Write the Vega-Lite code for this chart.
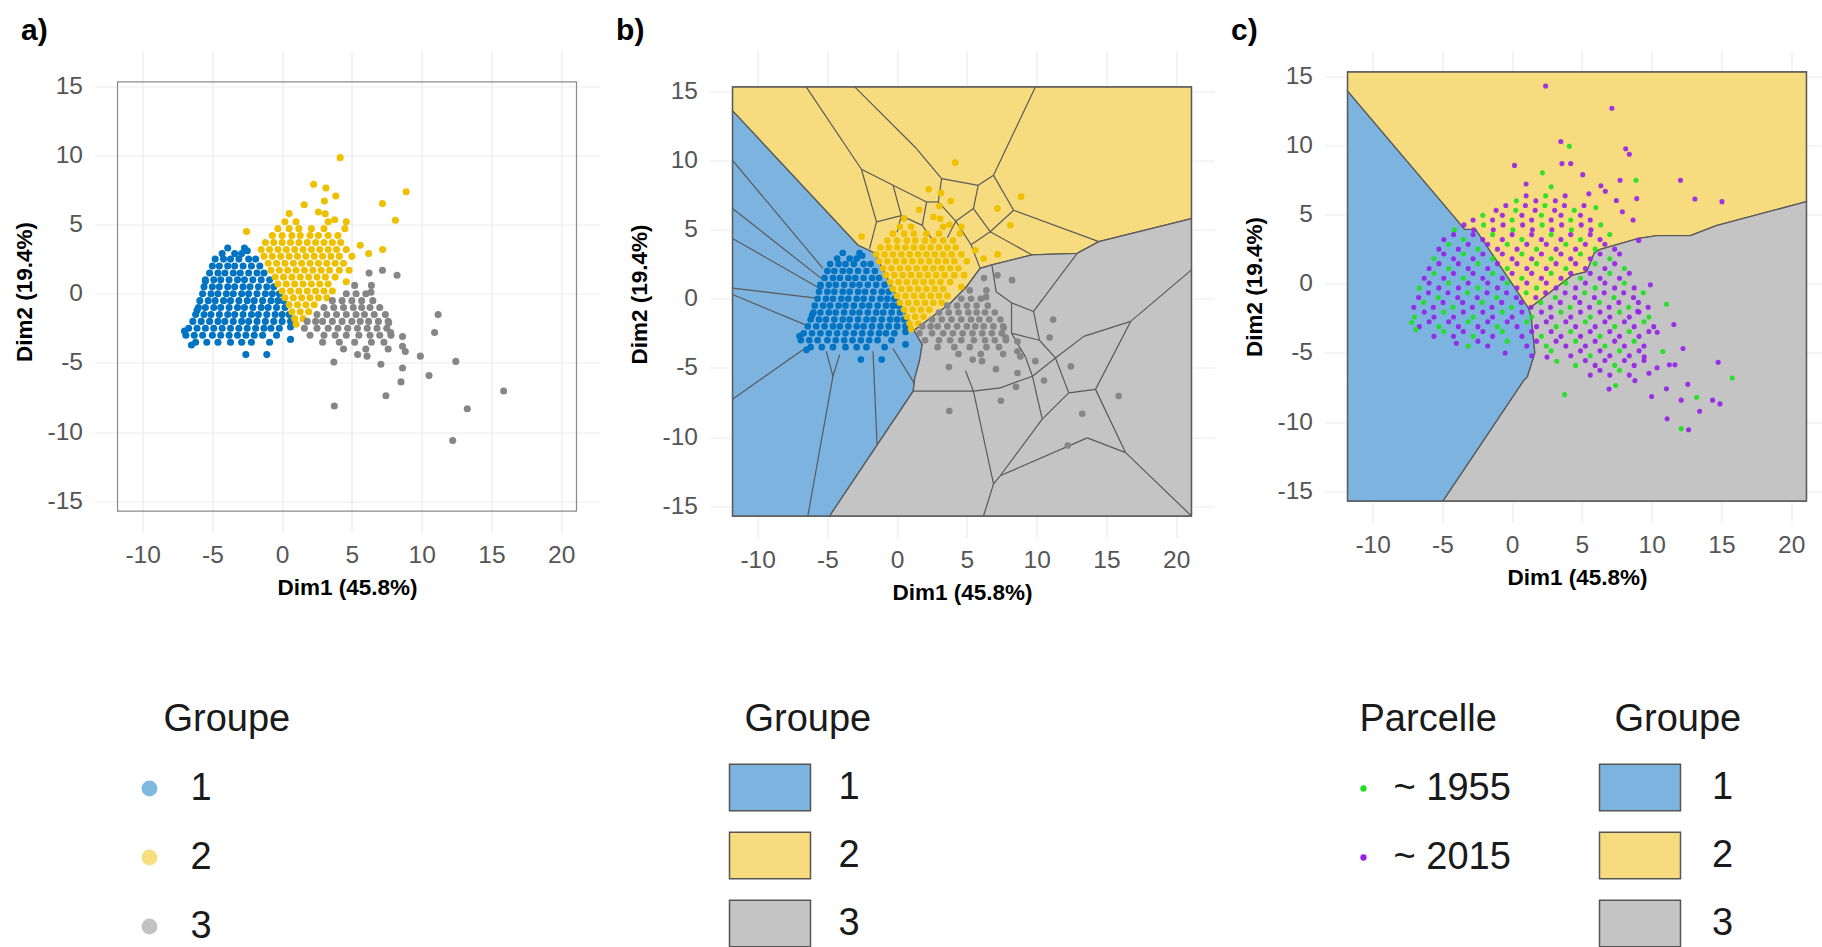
{
"$schema":"https://vega.github.io/schema/vega-lite/v6.json",
"background":"white",
"padding":{"left":12.5,"top":15.5,"right":0,"bottom":0},
"config":{
 "view":{"stroke":null},
 "font":"Liberation Sans",
 "axis":{"grid":true,"gridColor":"#ebebeb","gridWidth":1.2,"domain":false,"ticks":false,"labelFont":"Liberation Sans","labelFontSize":24.5,"labelColor":"#555555","titleFont":"Liberation Sans","titleFontSize":22.5,"titleFontWeight":"bold","titleColor":"#000000"},
 "legend":{"titleFont":"Liberation Sans","labelFont":"Liberation Sans","titleFontSize":38,"labelFontSize":38,"titleFontWeight":"normal","titleColor":"#1a1a1a","labelColor":"#1a1a1a","padding":0,"rowPadding":31,"titlePadding":31},
 "title":{"font":"Liberation Sans","fontSize":30,"fontWeight":"bold","anchor":"start","frame":"bounds","color":"#000000"}
},
"datasets":{
"frame":[{"x":-11.8,"x2":21.1,"y":-15.7,"y2":15.3}],
"pts":[
{"x":-3.9,"y":3.3,"g":1},{"x":-2.7,"y":3.3,"g":1},{"x":-2.5,"y":3.1,"g":1},
{"x":-4.3,"y":2.9,"g":1},{"x":-3.4,"y":2.9,"g":1},{"x":-2.9,"y":2.9,"g":1},
{"x":-4.8,"y":2.5,"g":1},{"x":-4.2,"y":2.5,"g":1},{"x":-3.7,"y":2.5,"g":1},{"x":-3.1,"y":2.5,"g":1},{"x":-2.4,"y":2.5,"g":1},{"x":-1.9,"y":2.5,"g":1},
{"x":-5.0,"y":2.0,"g":1},{"x":-4.5,"y":2.0,"g":1},{"x":-3.9,"y":2.0,"g":1},{"x":-3.4,"y":2.0,"g":1},{"x":-2.8,"y":2.0,"g":1},{"x":-2.2,"y":2.0,"g":1},{"x":-1.6,"y":2.0,"g":1},
{"x":-5.2,"y":1.5,"g":1},{"x":-4.6,"y":1.5,"g":1},{"x":-4.1,"y":1.5,"g":1},{"x":-3.5,"y":1.5,"g":1},{"x":-3.0,"y":1.5,"g":1},{"x":-2.4,"y":1.5,"g":1},{"x":-1.8,"y":1.5,"g":1},{"x":-1.3,"y":1.5,"g":1},
{"x":-5.5,"y":1.0,"g":1},{"x":-4.9,"y":1.0,"g":1},{"x":-4.4,"y":1.0,"g":1},{"x":-3.8,"y":1.0,"g":1},{"x":-3.2,"y":1.0,"g":1},{"x":-2.7,"y":1.0,"g":1},{"x":-2.1,"y":1.0,"g":1},{"x":-1.5,"y":1.0,"g":1},{"x":-0.9,"y":1.0,"g":1},
{"x":-5.6,"y":0.5,"g":1},{"x":-5.0,"y":0.5,"g":1},{"x":-4.5,"y":0.5,"g":1},{"x":-3.9,"y":0.5,"g":1},{"x":-3.4,"y":0.5,"g":1},{"x":-2.8,"y":0.5,"g":1},{"x":-2.3,"y":0.5,"g":1},{"x":-1.7,"y":0.5,"g":1},{"x":-1.1,"y":0.5,"g":1},{"x":-0.6,"y":0.5,"g":1},
{"x":-5.7,"y":0,"g":1},{"x":-5.1,"y":0,"g":1},{"x":-4.6,"y":0,"g":1},{"x":-4.0,"y":0,"g":1},{"x":-3.5,"y":0,"g":1},{"x":-2.9,"y":0,"g":1},{"x":-2.4,"y":0,"g":1},{"x":-1.8,"y":0,"g":1},{"x":-1.2,"y":0,"g":1},{"x":-0.7,"y":0,"g":1},{"x":-0.2,"y":0,"g":1},
{"x":-5.9,"y":-0.5,"g":1},{"x":-5.3,"y":-0.5,"g":1},{"x":-4.8,"y":-0.5,"g":1},{"x":-4.2,"y":-0.5,"g":1},{"x":-3.7,"y":-0.5,"g":1},{"x":-3.1,"y":-0.5,"g":1},{"x":-2.5,"y":-0.5,"g":1},{"x":-2.0,"y":-0.5,"g":1},{"x":-1.4,"y":-0.5,"g":1},{"x":-0.8,"y":-0.5,"g":1},{"x":-0.3,"y":-0.5,"g":1},{"x":0.1,"y":-0.5,"g":1},
{"x":-6.0,"y":-1,"g":1},{"x":-5.5,"y":-1,"g":1},{"x":-4.9,"y":-1,"g":1},{"x":-4.4,"y":-1,"g":1},{"x":-3.8,"y":-1,"g":1},{"x":-3.2,"y":-1,"g":1},{"x":-2.7,"y":-1,"g":1},{"x":-2.1,"y":-1,"g":1},{"x":-1.5,"y":-1,"g":1},{"x":-1.0,"y":-1,"g":1},{"x":-0.4,"y":-1,"g":1},{"x":0.2,"y":-1,"g":1},
{"x":-6.2,"y":-1.5,"g":1},{"x":-5.6,"y":-1.5,"g":1},{"x":-5.1,"y":-1.5,"g":1},{"x":-4.5,"y":-1.5,"g":1},{"x":-3.9,"y":-1.5,"g":1},{"x":-3.4,"y":-1.5,"g":1},{"x":-2.8,"y":-1.5,"g":1},{"x":-2.2,"y":-1.5,"g":1},{"x":-1.7,"y":-1.5,"g":1},{"x":-1.1,"y":-1.5,"g":1},{"x":-0.5,"y":-1.5,"g":1},{"x":0.0,"y":-1.5,"g":1},{"x":0.5,"y":-1.5,"g":1},
{"x":-6.4,"y":-2,"g":1},{"x":-5.8,"y":-2,"g":1},{"x":-5.2,"y":-2,"g":1},{"x":-4.6,"y":-2,"g":1},{"x":-4.1,"y":-2,"g":1},{"x":-3.5,"y":-2,"g":1},{"x":-2.9,"y":-2,"g":1},{"x":-2.4,"y":-2,"g":1},{"x":-1.8,"y":-2,"g":1},{"x":-1.2,"y":-2,"g":1},{"x":-0.6,"y":-2,"g":1},{"x":0.0,"y":-2,"g":1},{"x":0.6,"y":-2,"g":1},
{"x":-6.7,"y":-2.5,"g":1},{"x":-6.1,"y":-2.5,"g":1},{"x":-5.5,"y":-2.5,"g":1},{"x":-4.9,"y":-2.5,"g":1},{"x":-4.3,"y":-2.5,"g":1},{"x":-3.7,"y":-2.5,"g":1},{"x":-3.1,"y":-2.5,"g":1},{"x":-2.5,"y":-2.5,"g":1},{"x":-1.9,"y":-2.5,"g":1},{"x":-1.3,"y":-2.5,"g":1},{"x":-0.8,"y":-2.5,"g":1},{"x":-0.2,"y":-2.5,"g":1},{"x":0.6,"y":-2.4,"g":1},
{"x":-6.9,"y":-3,"g":1},{"x":-6.3,"y":-3,"g":1},{"x":-5.7,"y":-3,"g":1},{"x":-5.0,"y":-3,"g":1},{"x":-4.4,"y":-3,"g":1},{"x":-3.8,"y":-3,"g":1},{"x":-3.2,"y":-3,"g":1},{"x":-2.6,"y":-3,"g":1},{"x":-2.0,"y":-3,"g":1},{"x":-1.4,"y":-3,"g":1},{"x":-0.4,"y":-3,"g":1},
{"x":-6.2,"y":-3.5,"g":1},{"x":-5.4,"y":-3.5,"g":1},{"x":-4.6,"y":-3.5,"g":1},{"x":-3.7,"y":-3.5,"g":1},{"x":-2.9,"y":-3.5,"g":1},{"x":-2.2,"y":-3.5,"g":1},{"x":-0.9,"y":-3.5,"g":1},{"x":0.6,"y":-3.3,"g":1},
{"x":-2.6,"y":-4.4,"g":1},{"x":-1.1,"y":-4.4,"g":1},{"x":-7.0,"y":-2.7,"g":1},{"x":-6.5,"y":-3.7,"g":1},{"x":-5.5,"y":0.9,"g":1},{"x":-6.1,"y":-1.2,"g":1},
{"x":1.0,"y":-2.2,"g":2},
{"x":0.9,"y":-1.8,"g":2},{"x":1.5,"y":-1.8,"g":2},
{"x":0.7,"y":-1.3,"g":2},{"x":1.3,"y":-1.3,"g":2},{"x":1.9,"y":-1.3,"g":2},
{"x":0.5,"y":-0.8,"g":2},{"x":1.1,"y":-0.8,"g":2},{"x":1.7,"y":-0.8,"g":2},{"x":2.3,"y":-0.8,"g":2},
{"x":0.2,"y":-0.3,"g":2},{"x":0.8,"y":-0.3,"g":2},{"x":1.4,"y":-0.3,"g":2},{"x":2.0,"y":-0.3,"g":2},{"x":2.6,"y":-0.3,"g":2},{"x":3.2,"y":-0.3,"g":2},
{"x":0.0,"y":0.2,"g":2},{"x":0.6,"y":0.2,"g":2},{"x":1.2,"y":0.2,"g":2},{"x":1.8,"y":0.2,"g":2},{"x":2.4,"y":0.2,"g":2},{"x":3.0,"y":0.2,"g":2},{"x":3.6,"y":0.2,"g":2},
{"x":-0.3,"y":0.7,"g":2},{"x":0.3,"y":0.7,"g":2},{"x":0.9,"y":0.7,"g":2},{"x":1.5,"y":0.7,"g":2},{"x":2.1,"y":0.7,"g":2},{"x":2.7,"y":0.7,"g":2},{"x":3.3,"y":0.7,"g":2},{"x":4.6,"y":0.86,"g":2},
{"x":-0.5,"y":1.2,"g":2},{"x":0.1,"y":1.2,"g":2},{"x":0.7,"y":1.2,"g":2},{"x":1.3,"y":1.2,"g":2},{"x":1.9,"y":1.2,"g":2},{"x":2.5,"y":1.2,"g":2},{"x":3.1,"y":1.2,"g":2},{"x":3.8,"y":1.2,"g":2},
{"x":-0.8,"y":1.7,"g":2},{"x":-0.2,"y":1.7,"g":2},{"x":0.4,"y":1.7,"g":2},{"x":1.0,"y":1.7,"g":2},{"x":1.6,"y":1.7,"g":2},{"x":2.2,"y":1.7,"g":2},{"x":2.8,"y":1.7,"g":2},{"x":3.4,"y":1.7,"g":2},{"x":4.1,"y":1.7,"g":2},{"x":4.8,"y":1.7,"g":2},
{"x":-1.0,"y":2.2,"g":2},{"x":-0.4,"y":2.2,"g":2},{"x":0.2,"y":2.2,"g":2},{"x":0.8,"y":2.2,"g":2},{"x":1.4,"y":2.2,"g":2},{"x":2.0,"y":2.2,"g":2},{"x":2.6,"y":2.2,"g":2},{"x":3.2,"y":2.2,"g":2},{"x":3.8,"y":2.2,"g":2},{"x":4.4,"y":2.2,"g":2},
{"x":-1.3,"y":2.7,"g":2},{"x":-0.7,"y":2.7,"g":2},{"x":-0.1,"y":2.7,"g":2},{"x":0.5,"y":2.7,"g":2},{"x":1.1,"y":2.7,"g":2},{"x":1.7,"y":2.7,"g":2},{"x":2.3,"y":2.7,"g":2},{"x":2.9,"y":2.7,"g":2},{"x":3.5,"y":2.7,"g":2},{"x":4.1,"y":2.7,"g":2},{"x":5.0,"y":2.7,"g":2},
{"x":-1.5,"y":3.2,"g":2},{"x":-0.9,"y":3.2,"g":2},{"x":-0.3,"y":3.2,"g":2},{"x":0.3,"y":3.2,"g":2},{"x":0.9,"y":3.2,"g":2},{"x":1.5,"y":3.2,"g":2},{"x":2.1,"y":3.2,"g":2},{"x":2.7,"y":3.2,"g":2},{"x":3.3,"y":3.2,"g":2},{"x":3.9,"y":3.2,"g":2},{"x":4.6,"y":3.2,"g":2},{"x":7.2,"y":3.2,"g":2},
{"x":-1.2,"y":3.7,"g":2},{"x":-0.6,"y":3.7,"g":2},{"x":0.0,"y":3.7,"g":2},{"x":0.6,"y":3.7,"g":2},{"x":1.2,"y":3.7,"g":2},{"x":1.8,"y":3.7,"g":2},{"x":2.4,"y":3.7,"g":2},{"x":3.0,"y":3.7,"g":2},{"x":3.6,"y":3.7,"g":2},{"x":4.2,"y":3.7,"g":2},{"x":5.6,"y":3.5,"g":2},
{"x":-0.7,"y":4.2,"g":2},{"x":0.0,"y":4.2,"g":2},{"x":0.7,"y":4.2,"g":2},{"x":1.3,"y":4.2,"g":2},{"x":2.0,"y":4.2,"g":2},{"x":2.6,"y":4.2,"g":2},{"x":3.3,"y":4.2,"g":2},{"x":4.0,"y":4.2,"g":2},
{"x":-0.3,"y":4.7,"g":2},{"x":0.5,"y":4.7,"g":2},{"x":1.2,"y":4.7,"g":2},{"x":2.1,"y":4.7,"g":2},{"x":3.0,"y":4.7,"g":2},{"x":4.5,"y":4.7,"g":2},
{"x":0.2,"y":5.2,"g":2},{"x":1.0,"y":5.2,"g":2},{"x":3.3,"y":5.2,"g":2},{"x":4.6,"y":5.2,"g":2},
{"x":4.16,"y":9.83,"g":2},{"x":2.26,"y":7.9,"g":2},{"x":3.14,"y":7.63,"g":2},{"x":3.85,"y":7.06,"g":2},{"x":1.58,"y":6.43,"g":2},{"x":3.03,"y":6.69,"g":2},{"x":7.19,"y":6.51,"g":2},{"x":8.89,"y":7.37,"g":2},{"x":8.12,"y":5.31,"g":2},{"x":3.76,"y":5.34,"g":2},{"x":3.09,"y":5.77,"g":2},{"x":-2.55,"y":4.49,"g":2},{"x":6.2,"y":2.9,"g":2},{"x":2.6,"y":5.9,"g":2},{"x":0.5,"y":5.8,"g":2},
{"x":5.2,"y":0.6,"g":3},{"x":6.4,"y":0.6,"g":3},
{"x":4.6,"y":0,"g":3},{"x":5.3,"y":0,"g":3},{"x":6.0,"y":0,"g":3},
{"x":3.6,"y":-0.5,"g":3},{"x":4.3,"y":-0.5,"g":3},{"x":5.0,"y":-0.5,"g":3},{"x":5.7,"y":-0.5,"g":3},{"x":6.5,"y":-0.5,"g":3},
{"x":3.0,"y":-1,"g":3},{"x":3.7,"y":-1,"g":3},{"x":4.4,"y":-1,"g":3},{"x":5.1,"y":-1,"g":3},{"x":5.7,"y":-1,"g":3},{"x":6.3,"y":-1,"g":3},{"x":7.0,"y":-1,"g":3},
{"x":2.5,"y":-1.5,"g":3},{"x":3.2,"y":-1.5,"g":3},{"x":3.9,"y":-1.5,"g":3},{"x":4.6,"y":-1.5,"g":3},{"x":5.3,"y":-1.5,"g":3},{"x":5.9,"y":-1.5,"g":3},{"x":6.6,"y":-1.5,"g":3},{"x":7.4,"y":-1.5,"g":3},
{"x":1.8,"y":-2,"g":3},{"x":2.4,"y":-2,"g":3},{"x":2.9,"y":-2,"g":3},{"x":3.6,"y":-2,"g":3},{"x":4.3,"y":-2,"g":3},{"x":5.0,"y":-2,"g":3},{"x":5.6,"y":-2,"g":3},{"x":6.2,"y":-2,"g":3},{"x":6.9,"y":-2,"g":3},{"x":7.6,"y":-2,"g":3},
{"x":1.6,"y":-2.5,"g":3},{"x":2.5,"y":-2.5,"g":3},{"x":3.3,"y":-2.5,"g":3},{"x":4.0,"y":-2.5,"g":3},{"x":4.7,"y":-2.5,"g":3},{"x":5.4,"y":-2.5,"g":3},{"x":6.1,"y":-2.5,"g":3},{"x":6.8,"y":-2.5,"g":3},{"x":7.5,"y":-2.5,"g":3},
{"x":2.0,"y":-3,"g":3},{"x":3.0,"y":-3,"g":3},{"x":3.8,"y":-3,"g":3},{"x":4.6,"y":-3,"g":3},{"x":5.5,"y":-3,"g":3},{"x":6.3,"y":-3,"g":3},{"x":7.0,"y":-3,"g":3},{"x":7.8,"y":-3,"g":3},
{"x":2.9,"y":-3.5,"g":3},{"x":4.1,"y":-3.5,"g":3},{"x":5.2,"y":-3.5,"g":3},{"x":6.4,"y":-3.5,"g":3},{"x":7.3,"y":-3.5,"g":3},
{"x":4.4,"y":-4,"g":3},{"x":6.0,"y":-4,"g":3},{"x":7.6,"y":-4,"g":3},
{"x":11.18,"y":-1.51,"g":3},{"x":10.93,"y":-2.8,"g":3},{"x":12.45,"y":-4.89,"g":3},{"x":15.88,"y":-7.03,"g":3},{"x":13.27,"y":-8.31,"g":3},{"x":12.23,"y":-10.6,"g":3},{"x":10.53,"y":-5.91,"g":3},{"x":9.91,"y":-4.51,"g":3},{"x":8.63,"y":-5.37,"g":3},{"x":8.52,"y":-6.37,"g":3},{"x":7.44,"y":-7.37,"g":3},{"x":3.74,"y":-8.11,"g":3},{"x":3.71,"y":-4.94,"g":3},{"x":7.08,"y":-5.09,"g":3},{"x":5.41,"y":-4.4,"g":3},{"x":6.09,"y":-4.51,"g":3},{"x":8.24,"y":1.34,"g":3},{"x":7.19,"y":1.69,"g":3},{"x":6.23,"y":1.49,"g":3},{"x":6.37,"y":0.11,"g":3},{"x":8.63,"y":-3.09,"g":3},{"x":8.63,"y":-3.8,"g":3},{"x":8.83,"y":-4.17,"g":3},{"x":7.64,"y":-2.09,"g":3},{"x":7.78,"y":-2.8,"g":3}
],
"polyb":[
{"g":1,"o":0,"x":-11.8,"y":13.59},{"g":1,"o":1,"x":-2.81,"y":3.88},{"g":1,"o":2,"x":-1.6,"y":3.3},{"g":1,"o":3,"x":1.2,"y":-2.3},{"g":1,"o":4,"x":1.8,"y":-3.3},{"g":1,"o":5,"x":1.6,"y":-4.5},{"g":1,"o":6,"x":1.27,"y":-5.72},{"g":1,"o":7,"x":1.15,"y":-6.68},{"g":1,"o":8,"x":-4.84,"y":-15.7},{"g":1,"o":9,"x":-11.8,"y":-15.7},
{"g":2,"o":0,"x":-11.8,"y":15.3},{"g":2,"o":1,"x":21.1,"y":15.3},{"g":2,"o":2,"x":21.1,"y":5.79},{"g":2,"o":3,"x":14.46,"y":4.12},{"g":2,"o":4,"x":12.9,"y":3.27},{"g":2,"o":5,"x":9.67,"y":3.16},{"g":2,"o":6,"x":6.79,"y":2.44},{"g":2,"o":7,"x":5.95,"y":2.19},{"g":2,"o":8,"x":5.0,"y":0.9},{"g":2,"o":9,"x":3.8,"y":-0.35},{"g":2,"o":10,"x":1.2,"y":-2.3},{"g":2,"o":11,"x":-1.6,"y":3.3},{"g":2,"o":12,"x":-2.81,"y":3.88},{"g":2,"o":13,"x":-11.8,"y":13.59},
{"g":3,"o":0,"x":1.2,"y":-2.3},{"g":3,"o":1,"x":3.8,"y":-0.35},{"g":3,"o":2,"x":5.0,"y":0.9},{"g":3,"o":3,"x":5.95,"y":2.19},{"g":3,"o":4,"x":6.79,"y":2.44},{"g":3,"o":5,"x":9.67,"y":3.16},{"g":3,"o":6,"x":12.9,"y":3.27},{"g":3,"o":7,"x":14.46,"y":4.12},{"g":3,"o":8,"x":21.1,"y":5.79},{"g":3,"o":9,"x":21.1,"y":-15.7},{"g":3,"o":10,"x":-4.84,"y":-15.7},{"g":3,"o":11,"x":1.15,"y":-6.68},{"g":3,"o":12,"x":1.27,"y":-5.72},{"g":3,"o":13,"x":1.6,"y":-4.5},{"g":3,"o":14,"x":1.8,"y":-3.3}
],
"polyc":[
{"g":1,"o":0,"x":-11.8,"y":13.93},{"g":1,"o":1,"x":-3.95,"y":4.6},{"g":1,"o":2,"x":-3.41,"y":3.93},{"g":1,"o":3,"x":-2.62,"y":3.93},{"g":1,"o":4,"x":-1,"y":1.5},{"g":1,"o":5,"x":1.2,"y":-1.8},{"g":1,"o":6,"x":1.36,"y":-2.33},{"g":1,"o":7,"x":1.63,"y":-5},{"g":1,"o":8,"x":1.09,"y":-6.73},{"g":1,"o":9,"x":0.83,"y":-7},{"g":1,"o":10,"x":-4.96,"y":-15.7},{"g":1,"o":11,"x":-11.8,"y":-15.7},
{"g":2,"o":0,"x":-11.8,"y":15.3},{"g":2,"o":1,"x":21.1,"y":15.3},{"g":2,"o":2,"x":21.1,"y":5.93},{"g":2,"o":3,"x":14.64,"y":4.2},{"g":2,"o":4,"x":12.78,"y":3.48},{"g":2,"o":5,"x":10.39,"y":3.48},{"g":2,"o":6,"x":9.07,"y":3.27},{"g":2,"o":7,"x":6.27,"y":2.47},{"g":2,"o":8,"x":5.88,"y":2.2},{"g":2,"o":9,"x":5.35,"y":0.87},{"g":2,"o":10,"x":4.29,"y":0.6},{"g":2,"o":11,"x":1.2,"y":-1.8},{"g":2,"o":12,"x":-1,"y":1.5},{"g":2,"o":13,"x":-2.62,"y":3.93},{"g":2,"o":14,"x":-3.41,"y":3.93},{"g":2,"o":15,"x":-3.95,"y":4.6},{"g":2,"o":16,"x":-11.8,"y":13.93},
{"g":3,"o":0,"x":1.2,"y":-1.8},{"g":3,"o":1,"x":4.29,"y":0.6},{"g":3,"o":2,"x":5.35,"y":0.87},{"g":3,"o":3,"x":5.88,"y":2.2},{"g":3,"o":4,"x":6.27,"y":2.47},{"g":3,"o":5,"x":9.07,"y":3.27},{"g":3,"o":6,"x":10.39,"y":3.48},{"g":3,"o":7,"x":12.78,"y":3.48},{"g":3,"o":8,"x":14.64,"y":4.2},{"g":3,"o":9,"x":21.1,"y":5.93},{"g":3,"o":10,"x":21.1,"y":-15.7},{"g":3,"o":11,"x":-4.96,"y":-15.7},{"g":3,"o":12,"x":0.83,"y":-7},{"g":3,"o":13,"x":1.09,"y":-6.73},{"g":3,"o":14,"x":1.63,"y":-5},{"g":3,"o":15,"x":1.36,"y":-2.33}
],
"edges":[
{"x":-6.52,"y":15.3,"x2":-2.56,"y2":9.35},{"x":-2.56,"y":9.35,"x2":-1.48,"y2":5.55},{"x":-1.48,"y":5.55,"x2":-1.98,"y2":3.6},{"x":-2.56,"y":9.35,"x2":-0.29,"y2":8.19},{"x":-0.29,"y":8.19,"x2":2.11,"y2":6.99},{"x":2.11,"y":6.99,"x2":2.95,"y2":6.99},{"x":2.95,"y":6.99,"x2":3.19,"y2":8.67},
{"x":-3.04,"y":15.3,"x2":1.4,"y2":10.83},{"x":1.4,"y":10.83,"x2":3.19,"y2":8.67},{"x":3.19,"y":8.67,"x2":5.81,"y2":8.19},{"x":5.81,"y":8.19,"x2":6.91,"y2":8.91},{"x":6.91,"y":8.91,"x2":9.91,"y2":15.3},{"x":6.91,"y":8.91,"x2":8.35,"y2":6.39},{"x":8.35,"y":6.39,"x2":14.46,"y2":4.12},{"x":8.35,"y":6.39,"x2":6.67,"y2":4.84},{"x":5.81,"y":8.19,"x2":5.47,"y2":6.51},{"x":5.47,"y":6.51,"x2":6.67,"y2":4.84},{"x":6.67,"y":4.84,"x2":9.67,"y2":3.16},
{"x":-0.29,"y":8.19,"x2":0.3,"y2":6.0},{"x":0.3,"y":6.0,"x2":-1.48,"y2":5.55},{"x":0.3,"y":6.0,"x2":1.8,"y2":5.3},{"x":2.11,"y":6.99,"x2":1.8,"y2":5.3},{"x":2.95,"y":6.99,"x2":4.2,"y2":5.6},{"x":5.47,"y":6.51,"x2":4.2,"y2":5.6},{"x":4.2,"y":5.6,"x2":3.6,"y2":4.4},{"x":1.8,"y":5.3,"x2":2.5,"y2":4.3},{"x":0.3,"y":6.0,"x2":0.0,"y2":4.8},{"x":6.67,"y":4.84,"x2":5.3,"y2":3.9},{"x":5.3,"y":3.9,"x2":4.2,"y2":5.6},{"x":5.3,"y":3.9,"x2":5.95,"y2":2.19},
{"x":-11.8,"y":9.99,"x2":-5.32,"y2":2.19},{"x":-11.8,"y":6.51,"x2":-5.44,"y2":1.47},{"x":-11.8,"y":4.35,"x2":-5.56,"y2":0.76},{"x":-11.8,"y":0.76,"x2":-5.8,"y2":0.04},{"x":-11.8,"y":0.3,"x2":-6.3,"y2":-2.0},{"x":-11.8,"y":-7.27,"x2":-6.76,"y2":-3.68},
{"x":-4.6,"y":-5.6,"x2":-6.4,"y2":-15.7},{"x":-4.6,"y":-5.6,"x2":-5.08,"y2":-3.8},{"x":-4.6,"y":-5.6,"x2":-4.12,"y2":-4.04},{"x":-1.73,"y":-3.8,"x2":-1.44,"y2":-10.51},{"x":-0.3,"y":-3.6,"x2":1.22,"y2":-6.1},
{"x":1.15,"y":-6.68,"x2":5.47,"y2":-6.68},{"x":5.47,"y":-6.68,"x2":6.91,"y2":-13.38},{"x":6.91,"y":-13.38,"x2":6.19,"y2":-15.7},{"x":6.91,"y":-13.38,"x2":7.39,"y2":-12.79},{"x":7.39,"y":-12.79,"x2":13.63,"y2":-10.05},{"x":7.39,"y":-12.79,"x2":10.4,"y2":-8.7},{"x":10.4,"y":-8.7,"x2":12.3,"y2":-6.8},{"x":10.4,"y":-8.7,"x2":9.7,"y2":-5.6},{"x":13.63,"y":-10.05,"x2":16.38,"y2":-11.12},{"x":16.38,"y":-11.12,"x2":21.1,"y2":-15.7},{"x":16.38,"y":-11.12,"x2":14.22,"y2":-6.55},{"x":14.22,"y":-6.55,"x2":12.3,"y2":-6.8},{"x":14.22,"y":-6.55,"x2":16.74,"y2":-1.64},{"x":16.74,"y":-1.64,"x2":21.1,"y2":2.08},{"x":16.74,"y":-1.64,"x2":13.38,"y2":-2.72},{"x":13.38,"y":-2.72,"x2":11.35,"y2":-4.28},{"x":11.35,"y":-4.28,"x2":12.3,"y2":-6.8},{"x":11.35,"y":-4.28,"x2":9.7,"y2":-5.6},{"x":5.47,"y":-6.68,"x2":7.39,"y2":-6.44},{"x":7.39,"y":-6.44,"x2":9.7,"y2":-5.6},{"x":12.9,"y":3.27,"x2":9.78,"y2":-0.92},{"x":9.78,"y":-0.92,"x2":10.2,"y2":-3.0},{"x":10.2,"y":-3.0,"x2":11.35,"y2":-4.28},{"x":5.47,"y":-6.68,"x2":4.9,"y2":-5.2},{"x":9.7,"y":-5.6,"x2":9.2,"y2":-4.2},{"x":9.78,"y":-0.92,"x2":8.2,"y2":-0.3},{"x":6.79,"y":2.44,"x2":7.1,"y2":0.5},{"x":7.1,"y":0.5,"x2":8.2,"y2":-0.3},{"x":8.2,"y":-0.3,"x2":8.2,"y2":-2.5},{"x":8.2,"y":-2.5,"x2":10.2,"y2":-3.0},{"x":8.2,"y":-2.5,"x2":9.2,"y2":-4.2}
],
"pc":[
{"x":0.3,"y":6.0,"p":1955},{"x":1.0,"y":6.35,"p":2015},{"x":1.7,"y":6.0,"p":2015},{"x":2.4,"y":6.35,"p":1955},{"x":3.1,"y":6.0,"p":2015},{"x":3.8,"y":6.35,"p":2015},
{"x":-1.15,"y":5.3,"p":2015},{"x":-0.45,"y":5.65,"p":2015},{"x":0.25,"y":5.3,"p":1955},{"x":0.95,"y":5.65,"p":2015},{"x":1.65,"y":5.3,"p":2015},{"x":2.35,"y":5.65,"p":1955},{"x":3.05,"y":5.3,"p":2015},{"x":3.75,"y":5.65,"p":2015},{"x":4.45,"y":5.3,"p":1955},{"x":5.15,"y":5.65,"p":2015},
{"x":-2.8,"y":4.6,"p":2015},{"x":-2.1,"y":4.95,"p":1955},{"x":-1.4,"y":4.6,"p":2015},{"x":-0.7,"y":4.95,"p":2015},{"x":0,"y":4.6,"p":1955},{"x":0.7,"y":4.95,"p":2015},{"x":1.4,"y":4.6,"p":2015},{"x":2.1,"y":4.95,"p":1955},{"x":2.8,"y":4.6,"p":2015},{"x":3.5,"y":4.95,"p":2015},{"x":4.2,"y":4.6,"p":1955},{"x":4.9,"y":4.95,"p":2015},{"x":5.6,"y":4.6,"p":2015},
{"x":-4.15,"y":3.9,"p":1955},{"x":-3.45,"y":4.25,"p":2015},{"x":-2.75,"y":3.9,"p":2015},{"x":-2.05,"y":4.25,"p":1955},{"x":-1.35,"y":3.9,"p":2015},{"x":-0.65,"y":4.25,"p":2015},{"x":0.05,"y":3.9,"p":1955},{"x":0.75,"y":4.25,"p":2015},{"x":1.45,"y":3.9,"p":2015},{"x":2.15,"y":4.25,"p":1955},{"x":2.85,"y":3.9,"p":2015},{"x":3.55,"y":4.25,"p":2015},{"x":4.25,"y":3.9,"p":1955},{"x":4.95,"y":4.25,"p":2015},{"x":5.65,"y":3.9,"p":2015},{"x":6.35,"y":4.25,"p":1955},
{"x":-4.9,"y":3.2,"p":2015},{"x":-4.2,"y":3.55,"p":2015},{"x":-3.5,"y":3.2,"p":1955},{"x":-2.8,"y":3.55,"p":2015},{"x":-2.1,"y":3.2,"p":2015},{"x":-1.4,"y":3.55,"p":1955},{"x":-0.7,"y":3.2,"p":2015},{"x":0,"y":3.55,"p":2015},{"x":0.7,"y":3.2,"p":1955},{"x":1.4,"y":3.55,"p":2015},{"x":2.1,"y":3.2,"p":2015},{"x":2.8,"y":3.55,"p":1955},{"x":3.5,"y":3.2,"p":2015},{"x":4.2,"y":3.55,"p":2015},{"x":4.9,"y":3.2,"p":1955},{"x":5.6,"y":3.55,"p":2015},{"x":6.3,"y":3.2,"p":2015},{"x":7.0,"y":3.55,"p":1955},
{"x":-5.25,"y":2.5,"p":2015},{"x":-4.55,"y":2.85,"p":1955},{"x":-3.85,"y":2.5,"p":2015},{"x":-3.15,"y":2.85,"p":2015},{"x":-2.45,"y":2.5,"p":1955},{"x":-1.75,"y":2.85,"p":2015},{"x":-1.05,"y":2.5,"p":2015},{"x":-0.35,"y":2.85,"p":1955},{"x":0.35,"y":2.5,"p":2015},{"x":1.05,"y":2.85,"p":2015},{"x":1.75,"y":2.5,"p":1955},{"x":2.45,"y":2.85,"p":2015},{"x":3.15,"y":2.5,"p":2015},{"x":3.85,"y":2.85,"p":1955},{"x":4.55,"y":2.5,"p":2015},{"x":5.25,"y":2.85,"p":2015},{"x":5.95,"y":2.5,"p":1955},{"x":6.65,"y":2.85,"p":2015},{"x":7.35,"y":2.5,"p":2015},
{"x":-5.6,"y":1.8,"p":1955},{"x":-4.9,"y":2.15,"p":2015},{"x":-4.2,"y":1.8,"p":2015},{"x":-3.5,"y":2.15,"p":1955},{"x":-2.8,"y":1.8,"p":2015},{"x":-2.1,"y":2.15,"p":2015},{"x":-1.4,"y":1.8,"p":1955},{"x":-0.7,"y":2.15,"p":2015},{"x":0,"y":1.8,"p":2015},{"x":0.7,"y":2.15,"p":1955},{"x":1.4,"y":1.8,"p":2015},{"x":2.1,"y":2.15,"p":2015},{"x":2.8,"y":1.8,"p":1955},{"x":3.5,"y":2.15,"p":2015},{"x":4.2,"y":1.8,"p":2015},{"x":4.9,"y":2.15,"p":1955},{"x":5.6,"y":1.8,"p":2015},{"x":6.3,"y":2.15,"p":2015},{"x":7.0,"y":1.8,"p":1955},{"x":7.7,"y":2.15,"p":2015},
{"x":-5.95,"y":1.1,"p":2015},{"x":-5.25,"y":1.45,"p":2015},{"x":-4.55,"y":1.1,"p":1955},{"x":-3.85,"y":1.45,"p":2015},{"x":-3.15,"y":1.1,"p":2015},{"x":-2.45,"y":1.45,"p":1955},{"x":-1.75,"y":1.1,"p":2015},{"x":-1.05,"y":1.45,"p":2015},{"x":-0.35,"y":1.1,"p":1955},{"x":0.35,"y":1.45,"p":2015},{"x":1.05,"y":1.1,"p":2015},{"x":1.75,"y":1.45,"p":1955},{"x":2.45,"y":1.1,"p":2015},{"x":3.15,"y":1.45,"p":2015},{"x":3.85,"y":1.1,"p":1955},{"x":4.55,"y":1.45,"p":2015},{"x":5.25,"y":1.1,"p":2015},{"x":5.95,"y":1.45,"p":1955},{"x":6.65,"y":1.1,"p":2015},{"x":7.35,"y":1.45,"p":2015},{"x":8.05,"y":1.1,"p":1955},
{"x":-6.3,"y":0.4,"p":2015},{"x":-5.6,"y":0.75,"p":1955},{"x":-4.9,"y":0.4,"p":2015},{"x":-4.2,"y":0.75,"p":2015},{"x":-3.5,"y":0.4,"p":1955},{"x":-2.8,"y":0.75,"p":2015},{"x":-2.1,"y":0.4,"p":2015},{"x":-1.4,"y":0.75,"p":1955},{"x":-0.7,"y":0.4,"p":2015},{"x":0,"y":0.75,"p":2015},{"x":0.7,"y":0.4,"p":1955},{"x":1.4,"y":0.75,"p":2015},{"x":2.1,"y":0.4,"p":2015},{"x":2.8,"y":0.75,"p":1955},{"x":3.5,"y":0.4,"p":2015},{"x":4.2,"y":0.75,"p":2015},{"x":4.9,"y":0.4,"p":1955},{"x":5.6,"y":0.75,"p":2015},{"x":6.3,"y":0.4,"p":2015},{"x":7.0,"y":0.75,"p":1955},{"x":7.7,"y":0.4,"p":2015},{"x":8.4,"y":0.75,"p":2015},
{"x":-6.65,"y":-0.3,"p":1955},{"x":-5.95,"y":0.05,"p":2015},{"x":-5.25,"y":-0.3,"p":2015},{"x":-4.55,"y":0.05,"p":1955},{"x":-3.85,"y":-0.3,"p":2015},{"x":-3.15,"y":0.05,"p":2015},{"x":-2.45,"y":-0.3,"p":1955},{"x":-1.75,"y":0.05,"p":2015},{"x":-1.05,"y":-0.3,"p":2015},{"x":-0.35,"y":0.05,"p":1955},{"x":0.35,"y":-0.3,"p":2015},{"x":1.05,"y":0.05,"p":2015},{"x":1.75,"y":-0.3,"p":1955},{"x":2.45,"y":0.05,"p":2015},{"x":3.15,"y":-0.3,"p":2015},{"x":3.85,"y":0.05,"p":1955},{"x":4.55,"y":-0.3,"p":2015},{"x":5.25,"y":0.05,"p":2015},{"x":5.95,"y":-0.3,"p":1955},{"x":6.65,"y":0.05,"p":2015},{"x":7.35,"y":-0.3,"p":2015},{"x":8.05,"y":0.05,"p":1955},{"x":8.75,"y":-0.3,"p":2015},
{"x":-6.7,"y":-1.0,"p":2015},{"x":-6.0,"y":-0.65,"p":2015},{"x":-5.3,"y":-1.0,"p":1955},{"x":-4.6,"y":-0.65,"p":2015},{"x":-3.9,"y":-1.0,"p":2015},{"x":-3.2,"y":-0.65,"p":1955},{"x":-2.5,"y":-1.0,"p":2015},{"x":-1.8,"y":-0.65,"p":2015},{"x":-1.1,"y":-1.0,"p":1955},{"x":-0.4,"y":-0.65,"p":2015},{"x":0.3,"y":-1.0,"p":2015},{"x":1.0,"y":-0.65,"p":1955},{"x":1.7,"y":-1.0,"p":2015},{"x":2.4,"y":-0.65,"p":2015},{"x":3.1,"y":-1.0,"p":1955},{"x":3.8,"y":-0.65,"p":2015},{"x":4.5,"y":-1.0,"p":2015},{"x":5.2,"y":-0.65,"p":1955},{"x":5.9,"y":-1.0,"p":2015},{"x":6.6,"y":-0.65,"p":2015},{"x":7.3,"y":-1.0,"p":1955},{"x":8.0,"y":-0.65,"p":2015},{"x":8.7,"y":-1.0,"p":2015},{"x":9.4,"y":-0.65,"p":1955},
{"x":-7.05,"y":-1.7,"p":2015},{"x":-6.35,"y":-1.35,"p":1955},{"x":-5.65,"y":-1.7,"p":2015},{"x":-4.95,"y":-1.35,"p":2015},{"x":-4.25,"y":-1.7,"p":1955},{"x":-3.55,"y":-1.35,"p":2015},{"x":-2.85,"y":-1.7,"p":2015},{"x":-2.15,"y":-1.35,"p":1955},{"x":-1.45,"y":-1.7,"p":2015},{"x":-0.75,"y":-1.35,"p":2015},{"x":-0.05,"y":-1.7,"p":1955},{"x":0.65,"y":-1.35,"p":2015},{"x":1.35,"y":-1.7,"p":2015},{"x":2.05,"y":-1.35,"p":1955},{"x":2.75,"y":-1.7,"p":2015},{"x":3.45,"y":-1.35,"p":2015},{"x":4.15,"y":-1.7,"p":1955},{"x":4.85,"y":-1.35,"p":2015},{"x":5.55,"y":-1.7,"p":2015},{"x":6.25,"y":-1.35,"p":1955},{"x":6.95,"y":-1.7,"p":2015},{"x":7.65,"y":-1.35,"p":2015},{"x":8.35,"y":-1.7,"p":1955},{"x":9.05,"y":-1.35,"p":2015},{"x":9.75,"y":-1.7,"p":2015},
{"x":-7.0,"y":-2.4,"p":1955},{"x":-6.3,"y":-2.05,"p":2015},{"x":-5.6,"y":-2.4,"p":2015},{"x":-4.9,"y":-2.05,"p":1955},{"x":-4.2,"y":-2.4,"p":2015},{"x":-3.5,"y":-2.05,"p":2015},{"x":-2.8,"y":-2.4,"p":1955},{"x":-2.1,"y":-2.05,"p":2015},{"x":-1.4,"y":-2.4,"p":2015},{"x":-0.7,"y":-2.05,"p":1955},{"x":0,"y":-2.4,"p":2015},{"x":0.7,"y":-2.05,"p":2015},{"x":1.4,"y":-2.4,"p":1955},{"x":2.1,"y":-2.05,"p":2015},{"x":2.8,"y":-2.4,"p":2015},{"x":3.5,"y":-2.05,"p":1955},{"x":4.2,"y":-2.4,"p":2015},{"x":4.9,"y":-2.05,"p":2015},{"x":5.6,"y":-2.4,"p":1955},{"x":6.3,"y":-2.05,"p":2015},{"x":7.0,"y":-2.4,"p":2015},{"x":7.7,"y":-2.05,"p":1955},{"x":8.4,"y":-2.4,"p":2015},{"x":9.1,"y":-2.05,"p":2015},{"x":9.8,"y":-2.4,"p":1955},
{"x":-6.65,"y":-3.1,"p":2015},{"x":-5.95,"y":-2.75,"p":2015},{"x":-5.25,"y":-3.1,"p":1955},{"x":-4.55,"y":-2.75,"p":2015},{"x":-3.85,"y":-3.1,"p":2015},{"x":-3.15,"y":-2.75,"p":1955},{"x":-2.45,"y":-3.1,"p":2015},{"x":-1.75,"y":-2.75,"p":2015},{"x":-1.05,"y":-3.1,"p":1955},{"x":-0.35,"y":-2.75,"p":2015},{"x":0.35,"y":-3.1,"p":2015},{"x":1.05,"y":-2.75,"p":1955},{"x":1.75,"y":-3.1,"p":2015},{"x":2.45,"y":-2.75,"p":2015},{"x":3.15,"y":-3.1,"p":1955},{"x":3.85,"y":-2.75,"p":2015},{"x":4.55,"y":-3.1,"p":2015},{"x":5.25,"y":-2.75,"p":1955},{"x":5.95,"y":-3.1,"p":2015},{"x":6.65,"y":-2.75,"p":2015},{"x":7.35,"y":-3.1,"p":1955},{"x":8.05,"y":-2.75,"p":2015},{"x":8.75,"y":-3.1,"p":2015},{"x":9.45,"y":-2.75,"p":1955},{"x":10.15,"y":-3.1,"p":2015},
{"x":-5.6,"y":-3.8,"p":2015},{"x":-4.9,"y":-3.45,"p":1955},{"x":-4.2,"y":-3.8,"p":2015},{"x":-3.5,"y":-3.45,"p":2015},{"x":-2.8,"y":-3.8,"p":1955},{"x":-2.1,"y":-3.45,"p":2015},{"x":-1.4,"y":-3.8,"p":2015},{"x":-0.7,"y":-3.45,"p":1955},{"x":0.7,"y":-3.8,"p":2015},{"x":1.4,"y":-3.45,"p":2015},{"x":2.1,"y":-3.8,"p":1955},{"x":2.8,"y":-3.45,"p":2015},{"x":3.5,"y":-3.8,"p":2015},{"x":4.2,"y":-3.45,"p":1955},{"x":4.9,"y":-3.8,"p":2015},{"x":5.6,"y":-3.45,"p":2015},{"x":6.3,"y":-3.8,"p":1955},{"x":7.0,"y":-3.45,"p":2015},{"x":7.7,"y":-3.8,"p":2015},{"x":8.4,"y":-3.45,"p":1955},{"x":9.1,"y":-3.8,"p":2015},{"x":9.8,"y":-3.45,"p":2015},
{"x":-3.15,"y":-4.5,"p":1955},{"x":-2.45,"y":-4.15,"p":2015},{"x":-1.75,"y":-4.5,"p":2015},{"x":-0.35,"y":-4.15,"p":1955},{"x":1.05,"y":-4.5,"p":2015},{"x":1.75,"y":-4.15,"p":2015},{"x":2.45,"y":-4.5,"p":1955},{"x":3.15,"y":-4.15,"p":2015},{"x":3.85,"y":-4.5,"p":2015},{"x":4.55,"y":-4.15,"p":1955},{"x":5.25,"y":-4.5,"p":2015},{"x":5.95,"y":-4.15,"p":2015},{"x":6.65,"y":-4.5,"p":1955},{"x":7.35,"y":-4.15,"p":2015},{"x":8.05,"y":-4.5,"p":2015},{"x":8.75,"y":-4.15,"p":1955},{"x":9.45,"y":-4.5,"p":2015},
{"x":1.4,"y":-5.2,"p":2015},{"x":2.8,"y":-4.85,"p":1955},{"x":4.2,"y":-5.2,"p":2015},{"x":4.9,"y":-4.85,"p":2015},{"x":5.6,"y":-5.2,"p":1955},{"x":6.3,"y":-4.85,"p":2015},{"x":7.0,"y":-5.2,"p":2015},{"x":7.7,"y":-4.85,"p":1955},{"x":8.4,"y":-5.2,"p":2015},{"x":9.1,"y":-4.85,"p":2015},
{"x":4.55,"y":-5.9,"p":1955},{"x":5.25,"y":-5.55,"p":2015},{"x":5.95,"y":-5.9,"p":2015},{"x":6.65,"y":-5.55,"p":2015},{"x":7.35,"y":-5.9,"p":1955},{"x":8.05,"y":-5.55,"p":2015},{"x":8.75,"y":-5.9,"p":2015},{"x":9.45,"y":-5.55,"p":2015},
{"x":5.6,"y":-6.6,"p":2015},{"x":6.3,"y":-6.25,"p":2015},{"x":7.0,"y":-6.6,"p":2015},{"x":7.7,"y":-6.25,"p":1955},{"x":8.4,"y":-6.6,"p":2015},
{"x":2.4,"y":14.28,"p":2015},{"x":7.15,"y":12.68,"p":2015},{"x":3.49,"y":10.28,"p":2015},{"x":4.1,"y":9.93,"p":1955},{"x":8.14,"y":9.75,"p":2015},{"x":8.4,"y":9.35,"p":2015},{"x":0.17,"y":8.55,"p":2015},{"x":3.57,"y":8.68,"p":2015},{"x":4.2,"y":8.68,"p":2015},{"x":5.06,"y":7.88,"p":2015},{"x":12.07,"y":7.48,"p":2015},{"x":13.1,"y":6.12,"p":2015},{"x":15.04,"y":5.93,"p":2015},{"x":7.74,"y":7.48,"p":2015},{"x":6.36,"y":7.08,"p":2015},{"x":6.68,"y":6.68,"p":2015},{"x":8.88,"y":7.48,"p":1955},{"x":2.17,"y":8.01,"p":1955},{"x":8.93,"y":6.15,"p":2015},{"x":7.47,"y":6.01,"p":2015},{"x":8.67,"y":4.6,"p":2015},{"x":9.07,"y":3.13,"p":2015},{"x":11.06,"y":-1.48,"p":1955},{"x":9.91,"y":-0.07,"p":2015},{"x":11.59,"y":-2.95,"p":2015},{"x":12.25,"y":-4.68,"p":2015},{"x":14.77,"y":-5.67,"p":2015},{"x":15.78,"y":-6.81,"p":1955},{"x":14.37,"y":-8.41,"p":2015},{"x":14.9,"y":-8.68,"p":2015},{"x":13.44,"y":-9.21,"p":2015},{"x":13.23,"y":-8.2,"p":1955},{"x":12.59,"y":-7.27,"p":2015},{"x":12.12,"y":-8.41,"p":2015},{"x":11.06,"y":-7.59,"p":2015},{"x":10,"y":-8.15,"p":2015},{"x":11.11,"y":-9.75,"p":2015},{"x":12.12,"y":-10.47,"p":1955},{"x":12.65,"y":-10.55,"p":2015},{"x":11.27,"y":-5.85,"p":2015},{"x":11.67,"y":-5.85,"p":2015},{"x":10.39,"y":-6.07,"p":2015},{"x":9.81,"y":-6.47,"p":2015},{"x":8.8,"y":-7,"p":2015},{"x":6.95,"y":-7.61,"p":2015},{"x":7.42,"y":-7.35,"p":1955},{"x":3.76,"y":-8.01,"p":1955},{"x":9.47,"y":-5.27,"p":2015},{"x":3.2,"y":-5.6,"p":1955},{"x":2.5,"y":-5.3,"p":2015},{"x":-0.5,"y":-5.0,"p":2015},{"x":-4.0,"y":-4.3,"p":2015},{"x":-6.9,"y":-3.3,"p":1955},{"x":-7.2,"y":-2.8,"p":1955},{"x":1.0,"y":7.2,"p":2015},{"x":2.8,"y":7.0,"p":1955},{"x":5.5,"y":6.5,"p":2015},{"x":7.9,"y":5.2,"p":2015},{"x":6.0,"y":5.5,"p":1955},{"x":10.4,"y":-3.5,"p":2015},{"x":10.8,"y":-4.9,"p":1955},{"x":9.0,"y":-2.0,"p":2015}
]
},
"spacing":16,
"resolve":{"scale":{"x":"independent","y":"independent","color":"independent"},"legend":{"color":"independent"}},
"hconcat":[
{
 "title":{"text":"a)","dx":8,"offset":4.5},
 "width":505,"height":482,
 "encoding":{
  "x":{"field":"x","type":"quantitative","title":"Dim1 (45.8%)","scale":{"domain":[-13.45,22.75],"nice":false,"zero":false},"axis":{"values":[-10,-5,0,5,10,15,20],"labelExpr":"'' + datum.value","labelPadding":11,"titlePadding":9}},
  "y":{"field":"y","type":"quantitative","title":"Dim2 (19.4%)","scale":{"domain":[-17.25,17.57],"nice":false,"zero":false},"axis":{"values":[-15,-10,-5,0,5,10,15],"labelExpr":"'' + datum.value","labelPadding":12,"titlePadding":11}}
 },
 "layer":[
  {"data":{"name":"frame"},"mark":{"type":"rect","fill":"transparent","stroke":"#8a8a8a","strokeWidth":1.2},"encoding":{"x2":{"field":"x2"},"y2":{"field":"y2"}}},
  {"data":{"name":"pts"},"mark":{"type":"circle","size":50,"opacity":1},
   "encoding":{"color":{"field":"g","type":"nominal","scale":{"domain":[1,2,3],"range":["#0073C2","#EFC000","#868686"]},
    "legend":{"orient":"none","legendX":69,"legendY":650,"title":"Groupe","symbolType":"circle","symbolSize":250,"symbolOpacity":0.5,"symbolOffset":-33,"labelOffset":22}}}}
 ]
},
{
 "title":{"text":"b)","dx":-12,"offset":4.5},
 "width":505,"height":487,
 "encoding":{
  "x":{"field":"x","type":"quantitative","title":"Dim1 (45.8%)","scale":{"domain":[-13.45,22.75],"nice":false,"zero":false},"axis":{"values":[-10,-5,0,5,10,15,20],"labelExpr":"'' + datum.value","labelPadding":11,"titlePadding":9}},
  "y":{"field":"y","type":"quantitative","title":"Dim2 (19.4%)","scale":{"domain":[-17.25,17.93],"nice":false,"zero":false},"axis":{"values":[-15,-10,-5,0,5,10,15],"labelExpr":"'' + datum.value","labelPadding":12,"titlePadding":11}}
 },
 "resolve":{"scale":{"color":"independent"},"legend":{"color":"independent"}},
 "layer":[
  {"data":{"name":"polyb"},"mark":{"type":"line","filled":true,"interpolate":"linear-closed","stroke":"#5a5a5a","strokeWidth":1.3,"fillOpacity":1},
   "encoding":{"order":{"field":"o","type":"quantitative"},"color":{"field":"g","type":"nominal","scale":{"domain":[1,2,3],"range":["#7CB3DF","#F6DC7E","#C4C4C4"]},
    "legend":{"orient":"none","legendX":35,"legendY":650,"title":"Groupe","symbolType":"M-1,-0.574L1,-0.574L1,0.574L-1,0.574Z","symbolSize":6561,"symbolStrokeColor":"#555555","symbolStrokeWidth":1.5,"symbolOffset":-16,"labelOffset":27,"rowPadding":-12,"titlePadding":7.5}}}},
  {"data":{"name":"edges"},"mark":{"type":"rule","stroke":"#5a5a5a","strokeWidth":1.2},"encoding":{"x2":{"field":"x2"},"y2":{"field":"y2"}}},
  {"data":{"name":"pts"},"mark":{"type":"circle","size":44,"opacity":1},
   "encoding":{"color":{"field":"g","type":"nominal","scale":{"domain":[1,2,3],"range":["#0073C2","#EFC000","#868686"]},"legend":null}}},
  {"data":{"name":"frame"},"mark":{"type":"rect","fill":"transparent","stroke":"#5a5a5a","strokeWidth":1.3},"encoding":{"x2":{"field":"x2"},"y2":{"field":"y2"}}}
 ]
},
{
 "title":{"text":"c)","dx":-12,"offset":4.5},
 "width":505,"height":472,
 "encoding":{
  "x":{"field":"x","type":"quantitative","title":"Dim1 (45.8%)","scale":{"domain":[-13.45,22.75],"nice":false,"zero":false},"axis":{"values":[-10,-5,0,5,10,15,20],"labelExpr":"'' + datum.value","labelPadding":11,"titlePadding":9}},
  "y":{"field":"y","type":"quantitative","title":"Dim2 (19.4%)","scale":{"domain":[-17.25,16.85],"nice":false,"zero":false},"axis":{"values":[-15,-10,-5,0,5,10,15],"labelExpr":"'' + datum.value","labelPadding":12,"titlePadding":11}}
 },
 "resolve":{"scale":{"color":"independent"},"legend":{"color":"independent"}},
 "layer":[
  {"data":{"name":"polyc"},"mark":{"type":"line","filled":true,"interpolate":"linear-closed","stroke":"#5a5a5a","strokeWidth":1.3,"fillOpacity":1},
   "encoding":{"order":{"field":"o","type":"quantitative"},"color":{"field":"g","type":"nominal","scale":{"domain":[1,2,3],"range":["#7CB3DF","#F6DC7E","#C4C4C4"]},
    "legend":{"orient":"none","legendX":290,"legendY":650,"title":"Groupe","symbolType":"M-1,-0.574L1,-0.574L1,0.574L-1,0.574Z","symbolSize":6561,"symbolStrokeColor":"#555555","symbolStrokeWidth":1.5,"symbolOffset":-16,"labelOffset":30.5,"rowPadding":-12,"titlePadding":7.5}}}},
  {"data":{"name":"pc"},"mark":{"type":"circle","size":26,"opacity":0.9},
   "encoding":{"color":{"field":"p","type":"nominal","scale":{"domain":[1955,2015],"range":["#1EE11E","#9620E8"]},
    "legend":{"orient":"none","legendX":35,"legendY":650,"title":"Parcelle","symbolType":"circle","symbolSize":40,"symbolOpacity":1,"symbolOffset":-15,"labelOffset":11,"labelExpr":"'~ ' + datum.label"}}}},
  {"data":{"name":"frame"},"mark":{"type":"rect","fill":"transparent","stroke":"#5a5a5a","strokeWidth":1.3},"encoding":{"x2":{"field":"x2"},"y2":{"field":"y2"}}}
 ]
}
]
}
